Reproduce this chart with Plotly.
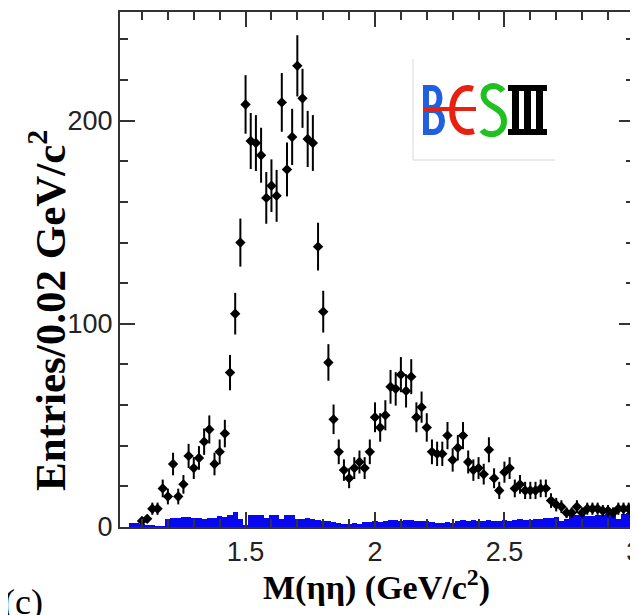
import plotly.graph_objects as go

# ---------------- data ----------------
mass_centers = [
    1.10, 1.12, 1.14, 1.16, 1.18, 1.20, 1.22, 1.24, 1.26, 1.28,
    1.30, 1.32, 1.34, 1.36, 1.38, 1.40, 1.42, 1.44, 1.46, 1.48,
    1.50, 1.52, 1.54, 1.56, 1.58, 1.60, 1.62, 1.64, 1.66, 1.68,
    1.70, 1.72, 1.74, 1.76, 1.78, 1.80, 1.82, 1.84, 1.86, 1.88,
    1.90, 1.92, 1.94, 1.96, 1.98, 2.00, 2.02, 2.04, 2.06, 2.08,
    2.10, 2.12, 2.14, 2.16, 2.18, 2.20, 2.22, 2.24, 2.26, 2.28,
    2.30, 2.32, 2.34, 2.36, 2.38, 2.40, 2.42, 2.44, 2.46, 2.48,
    2.50, 2.52, 2.54, 2.56, 2.58, 2.60, 2.62, 2.64, 2.66, 2.68,
    2.70, 2.72, 2.74, 2.76, 2.78, 2.80, 2.82, 2.84, 2.86, 2.88,
    2.90, 2.92, 2.94, 2.96, 2.98, 3.00,
]
entries = [
    3, 4, 9, 9, 19, 15, 31, 15, 21, 35,
    29, 34, 42, 48, 31, 37, 46, 76, 105, 140,
    208, 190, 189, 183, 162, 168, 163, 209, 176, 192,
    227, 211, 191, 189, 138, 106, 81, 53, 37, 28,
    24, 29, 32, 29, 37, 54, 49, 55, 69, 68,
    75, 67, 74, 54, 59, 49, 37, 36, 36, 45,
    33, 39, 45, 32, 28, 29, 26, 38, 24, 18,
    27, 29, 19, 21, 18, 18, 18, 19, 19, 13,
    11, 10, 7, 7, 10, 7, 9, 9, 9, 8,
    8, 7, 9, 9, 9, 5,
]
bin_half_width = 0.01

bkg_centers = [
    1.06, 1.08, 1.10, 1.12, 1.14, 1.16, 1.18, 1.20, 1.22, 1.24,
    1.26, 1.28, 1.30, 1.32, 1.34, 1.36, 1.38, 1.40, 1.42, 1.44,
    1.46, 1.48, 1.50, 1.52, 1.54, 1.56, 1.58, 1.60, 1.62, 1.64,
    1.66, 1.68, 1.70, 1.72, 1.74, 1.76, 1.78, 1.80, 1.82, 1.84,
    1.86, 1.88, 1.90, 1.92, 1.94, 1.96, 1.98, 2.00, 2.02, 2.04,
    2.06, 2.08, 2.10, 2.12, 2.14, 2.16, 2.18, 2.20, 2.22, 2.24,
    2.26, 2.28, 2.30, 2.32, 2.34, 2.36, 2.38, 2.40, 2.42, 2.44,
    2.46, 2.48, 2.50, 2.52, 2.54, 2.56, 2.58, 2.60, 2.62, 2.64,
    2.66, 2.68, 2.70, 2.72, 2.74, 2.76, 2.78, 2.80, 2.82, 2.84,
    2.86, 2.88, 2.90, 2.92, 2.94, 2.96, 2.98, 3.00,
]
bkg_entries = [
    2, 2, 1.5, 1, 0.5, 0.3, 0.3, 4, 4.5, 4.5,
    5, 5, 4.5, 4.5, 4, 4.5, 4.5, 5.5, 5, 6,
    7.5, 4, 1, 6, 6, 6, 4.5, 6, 6, 4,
    6, 6, 4, 4, 4.5, 4, 3.5, 3, 3, 2.5,
    2, 1.5, 1.5, 2, 1.5, 2.5, 2.5, 3, 2.5, 3,
    3.5, 3.5, 3, 3.5, 3.5, 3, 3, 3, 2.5, 2,
    2, 2.5, 2, 3, 3.5, 3, 3.5, 3, 3, 3.5,
    3, 3, 3.5, 3, 3.5, 4, 3.5, 3.5, 4, 4,
    4.5, 4.5, 5, 3, 4, 7, 6, 6, 5.5, 5.5,
    6, 6, 6.5, 6, 4, 6.5, 7, 8,
]

x_tick_vals = [1.5, 2.0, 2.5, 3.0]
x_tick_text = ["1.5", "2", "2.5", "3"]
y_tick_vals = [0, 100, 200]
y_tick_text = ["0", "100", "200"]

# ---------------- geometry (reference page pixels) ----------------
# the page body adds an 8px margin, so the figure is drawn 8px smaller
PAGE_OFF = 8
FIG_W, FIG_H = 638 - PAGE_OFF, 615 - PAGE_OFF
L, R, T, B = 120, 634, 12, 527
W, H = R - L, B - T


def fx(px):
    return (px - L) / W


def fy(py):
    return (B - py) / H


def P(px, py):
    return f"{fx(px):.4f},{fy(py):.4f}"


fig = go.Figure()

fig.add_trace(go.Bar(
    x=bkg_centers, y=bkg_entries, width=0.02,
    marker=dict(color="rgb(8,8,240)", line=dict(width=0)),
    hoverinfo="skip",
))

fig.add_trace(go.Scatter(
    x=mass_centers, y=entries, mode="markers",
    marker=dict(symbol="diamond", size=8, color="black"),
    error_y=dict(type="sqrt", thickness=2, width=0, color="black"),
    error_x=dict(type="constant", value=bin_half_width, thickness=2, width=0, color="black"),
))

axis_common = dict(
    showline=True, linewidth=2, linecolor="#333333", mirror="allticks",
    ticks="inside", ticklen=15, tickwidth=1.5, tickcolor="#333333",
    showgrid=False, zeroline=False, automargin=False, ticklabeloverflow="allow",
    tickfont=dict(family="Liberation Sans, Arial, sans-serif", size=27, color="#222222"),
)

fig.update_xaxes(
    range=[1.015, 3.0005], tickmode="array", tickvals=x_tick_vals, ticktext=x_tick_text,
    minor=dict(tick0=1.0, dtick=0.1, ticks="inside", ticklen=8, tickwidth=1.5,
               tickcolor="#333333", showgrid=False),
    **axis_common,
)
fig.update_yaxes(
    range=[0, 253.5], tickmode="array", tickvals=y_tick_vals, ticktext=y_tick_text,
    minor=dict(tick0=0, dtick=20, ticks="inside", ticklen=8, tickwidth=1.5,
               tickcolor="#333333", showgrid=False),
    **axis_common,
)

serif = "Liberation Serif, Times New Roman, serif"
annotations = [
    dict(text="<b>M(ηη) (GeV/c<sup>2</sup>)</b>", xref="paper", yref="paper",
         x=fx(376), y=fy(585), xanchor="center", yanchor="middle",
         showarrow=False, font=dict(family=serif, size=34, color="black")),
    dict(text="<b>Entries/0.02 GeV/c<sup>2</sup></b>", xref="paper", yref="paper",
         x=fx(47), y=fy(311), xanchor="center", yanchor="middle", textangle=-90,
         showarrow=False, font=dict(family=serif, size=43, color="black")),
    dict(text="(c)", xref="paper", yref="paper",
         x=fx(1), y=fy(580), xanchor="left", yanchor="top",
         showarrow=False, font=dict(family=serif, size=36, color="black")),
]

shapes = []
# logo box (faint left & bottom border)
shapes.append(dict(type="rect", xref="paper", yref="paper",
                   x0=fx(413), x1=fx(555), y0=fy(160), y1=fy(59),
                   fillcolor="white", line=dict(width=0), layer="above"))
shapes.append(dict(type="path", xref="paper", yref="paper",
                   path=f"M {P(413,59)} L {P(413,160)} L {P(555,160)}",
                   line=dict(color="#d8d8d8", width=1), layer="above"))
# B (blue)
shapes.append(dict(type="path", xref="paper", yref="paper",
                   path=(f"M {P(426,85)} L {P(426,135)} "
                         f"M {P(426,88)} L {P(432,88)} C {P(442,88)} {P(442,108)} {P(432,108)} L {P(426,108)} "
                         f"M {P(426,110)} L {P(433,110)} C {P(445,110)} {P(445,132)} {P(433,132)} L {P(426,132)}"),
                   line=dict(color="#1f5fe0", width=6), layer="above"))
# E (red arc)
shapes.append(dict(type="path", xref="paper", yref="paper",
                   path=f"M {P(473,89)} C {P(446,80)} {P(444,140)} {P(474,131)}",
                   line=dict(color="#e82010", width=6), layer="above"))
# red bar
shapes.append(dict(type="path", xref="paper", yref="paper",
                   path=f"M {P(423,109)} L {P(476,109)}",
                   line=dict(color="#e82010", width=4), layer="above"))
# S (green)
shapes.append(dict(type="path", xref="paper", yref="paper",
                   path=(f"M {P(503,91)} C {P(496,82)} {P(481,86)} {P(484,98)} "
                         f"C {P(487,108)} {P(504,107)} {P(504,121)} "
                         f"C {P(504,136)} {P(487,137)} {P(482,130)}"),
                   line=dict(color="#20c020", width=6), layer="above"))
# III (black)
for x0, x1, y0, y1 in [(508, 547, 85, 91), (508, 547, 129, 135),
                       (512, 519, 85, 135), (524, 531, 85, 135), (536, 543, 85, 135)]:
    shapes.append(dict(type="rect", xref="paper", yref="paper",
                       x0=fx(x0), x1=fx(x1), y0=fy(y1), y1=fy(y0),
                       fillcolor="black", line=dict(width=0), layer="above"))

fig.update_layout(
    width=FIG_W, height=FIG_H, template="none",
    margin=dict(l=L - PAGE_OFF, r=FIG_W - (R - PAGE_OFF), t=T - PAGE_OFF,
                b=FIG_H - (B - PAGE_OFF), autoexpand=False),
    paper_bgcolor="white", plot_bgcolor="white",
    showlegend=False, bargap=0,
    annotations=annotations, shapes=shapes,
)

fig.write_html("out.html")
